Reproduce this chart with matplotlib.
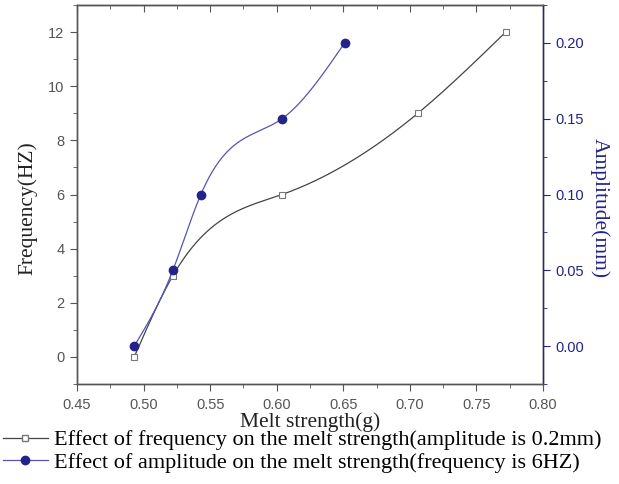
import numpy as np
import matplotlib
matplotlib.use("Agg")
import matplotlib.pyplot as plt
from matplotlib.lines import Line2D
from matplotlib.ticker import MultipleLocator, FormatStrFormatter

# Data
freq_x = [0.493, 0.522, 0.604, 0.706, 0.772]
freq_y = [0, 3, 6, 9, 12]
amp_x = [0.493, 0.522, 0.543, 0.604, 0.651]
amp_y = [0.00, 0.05, 0.10, 0.15, 0.20]

legend_labels = ["Effect of frequency on the melt strength(amplitude is 0.2mm)",
                 "Effect of amplitude on the melt strength(frequency is 6HZ)"]


def natural_spline(x, y, n=200):
    x = np.asarray(x, float); y = np.asarray(y, float)
    k = len(x)
    h = np.diff(x)
    A = np.zeros((k, k)); b = np.zeros(k)
    A[0, 0] = 1; A[-1, -1] = 1
    for i in range(1, k - 1):
        A[i, i - 1] = h[i - 1]
        A[i, i] = 2 * (h[i - 1] + h[i])
        A[i, i + 1] = h[i]
        b[i] = 3 * ((y[i + 1] - y[i]) / h[i] - (y[i] - y[i - 1]) / h[i - 1])
    c = np.linalg.solve(A, b)
    xs = np.linspace(x[0], x[-1], n)
    ys = np.empty_like(xs)
    for j, xv in enumerate(xs):
        i = min(np.searchsorted(x, xv, side='right') - 1, k - 2)
        dx = xv - x[i]
        bb = (y[i + 1] - y[i]) / h[i] - h[i] * (2 * c[i] + c[i + 1]) / 3
        d = (c[i + 1] - c[i]) / (3 * h[i])
        ys[j] = y[i] + bb * dx + c[i] * dx ** 2 + d * dx ** 3
    return xs, ys


blue = "#23238a"
blue_line = "#5555b5"
gray = "#444444"
tick_gray = "#555555"

fig = plt.figure(figsize=(6.19, 4.84), dpi=100)
ax = fig.add_axes([77 / 619, 1 - 384 / 484, (543 - 77) / 619, (384 - 5) / 484])
ax2 = ax.twinx()

sx, sy = natural_spline(freq_x, freq_y)
ax.plot(sx, sy, color=gray, lw=0.9)
ax.plot(freq_x, freq_y, ls='none', marker='s', ms=5, mfc='white', mec='#777777', mew=0.8)

ax2x, ax2y = natural_spline(amp_x, amp_y)
ax2.plot(ax2x, ax2y, color=blue_line, lw=0.9)
ax2.plot(amp_x, amp_y, ls='none', marker='o', ms=6, color=blue)

ax.set_xlim(0.45, 0.80)
ax.set_ylim(-1, 13)
ax2.set_ylim(-0.025, 0.225)

ax.xaxis.set_major_locator(MultipleLocator(0.05))
ax.xaxis.set_minor_locator(MultipleLocator(0.025))
ax.yaxis.set_major_locator(MultipleLocator(2))
ax.yaxis.set_minor_locator(MultipleLocator(1))
ax2.yaxis.set_major_locator(MultipleLocator(0.05))
ax2.yaxis.set_minor_locator(MultipleLocator(0.025))
ax.xaxis.set_major_formatter(FormatStrFormatter('%.2f'))
ax2.yaxis.set_major_formatter(FormatStrFormatter('%.2f'))

for a in (ax, ax2):
    for s in a.spines.values():
        s.set_color(tick_gray)
        s.set_linewidth(1.0)
ax2.spines['right'].set_color(blue)

# top inward ticks
top = ax.secondary_xaxis('top')
top.xaxis.set_major_locator(MultipleLocator(0.05))
top.xaxis.set_minor_locator(MultipleLocator(0.025))
top.tick_params(axis='x', which='both', direction='in', colors=tick_gray, labeltop=False)
top.tick_params(axis='x', which='major', length=5)
top.tick_params(axis='x', which='minor', length=3)
top.spines['top'].set_color(tick_gray)

ax.tick_params(axis='x', which='both', direction='out', colors=tick_gray, labelsize=10.5, pad=5)
ax.tick_params(axis='x', which='major', length=5)
ax.tick_params(axis='x', which='minor', length=3)
ax.tick_params(axis='y', which='both', direction='out', colors=tick_gray, labelsize=10.5, pad=4)
ax.tick_params(axis='y', which='major', length=5)
ax.tick_params(axis='y', which='minor', length=3)
ax2.tick_params(axis='y', which='both', direction='out', colors=blue, labelsize=10.5, pad=4)
ax2.tick_params(axis='y', which='major', length=5)
ax2.tick_params(axis='y', which='minor', length=3)
for lab in ax.get_xticklabels() + ax.get_yticklabels() + ax2.get_yticklabels():
    lab.set_family("Liberation Sans")

serif = "Liberation Serif"
ax.set_xlabel("Melt strength(g)", family=serif, fontsize=15.5, color="#222222", labelpad=0)
ax.set_ylabel("Frequency(HZ)", family=serif, fontsize=15.5, color="#222222",
              va='center')
ax2.set_ylabel("Amplitude(mm)", family=serif, fontsize=15.5, color=blue, rotation=270,
               va='center')
ax.yaxis.set_label_coords(-0.107, 0.465)
ax2.yaxis.set_label_coords(1.122, 0.465)

handles = [Line2D([], [], color=gray, lw=0.9, marker='s', ms=5, mfc='white', mec='#777777'),
           Line2D([], [], color=blue_line, lw=0.9, marker='o', ms=6, mfc=blue, mec=blue)]
fig.legend(handles, legend_labels, loc='upper left', bbox_to_anchor=(0.005, 0.112),
           frameon=False, prop={'family': serif, 'size': 16}, handlelength=2.0,
           handletextpad=0.3, labelspacing=0.1, borderaxespad=0, borderpad=0)

fig.savefig("out.png", dpi=100)
